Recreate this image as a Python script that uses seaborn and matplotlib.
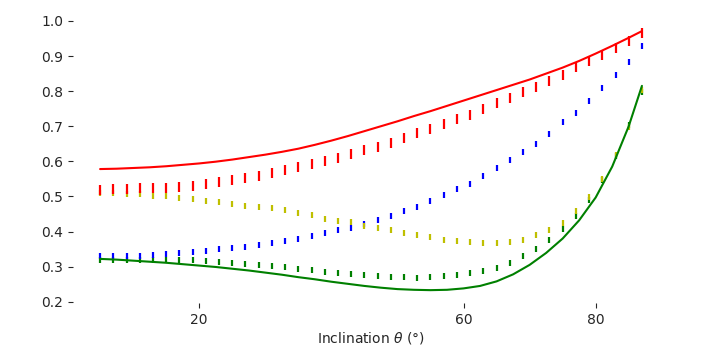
import matplotlib
matplotlib.use('Agg')
import matplotlib.pyplot as plt
import seaborn as sns
import numpy as np
import pandas as pd

# inclination grid for the tick-marked series (every 2 degrees)
incl_marks = list(range(5, 88, 2))

red_marks = [0.518, 0.520, 0.521, 0.523, 0.524, 0.525, 0.528, 0.531, 0.536, 0.541,
             0.546, 0.552, 0.559, 0.567, 0.576, 0.584, 0.592, 0.601, 0.610, 0.620,
             0.632, 0.642, 0.653, 0.666, 0.680, 0.693, 0.707, 0.721, 0.733, 0.749,
             0.765, 0.781, 0.798, 0.812, 0.829, 0.846, 0.869, 0.886, 0.903, 0.923,
             0.943, 0.966]
blue_marks = [0.330, 0.330, 0.330, 0.331, 0.334, 0.335, 0.339, 0.342, 0.344, 0.349,
              0.353, 0.357, 0.361, 0.366, 0.374, 0.379, 0.387, 0.395, 0.403, 0.410,
              0.422, 0.434, 0.443, 0.458, 0.469, 0.486, 0.504, 0.521, 0.536, 0.559,
              0.581, 0.604, 0.627, 0.649, 0.678, 0.713, 0.739, 0.773, 0.810, 0.847,
              0.884, 0.929]
yellow_marks = [0.509, 0.509, 0.508, 0.507, 0.502, 0.500, 0.495, 0.492, 0.487, 0.483,
                0.479, 0.473, 0.470, 0.466, 0.460, 0.453, 0.446, 0.437, 0.429, 0.426,
                0.417, 0.410, 0.404, 0.396, 0.390, 0.384, 0.377, 0.373, 0.369, 0.367,
                0.366, 0.371, 0.377, 0.389, 0.405, 0.425, 0.458, 0.497, 0.550, 0.617,
                0.698, 0.803]
green_marks = [0.320, 0.320, 0.320, 0.319, 0.319, 0.319, 0.319, 0.319, 0.316, 0.313,
               0.310, 0.307, 0.304, 0.301, 0.298, 0.294, 0.290, 0.285, 0.282, 0.279,
               0.276, 0.273, 0.271, 0.270, 0.268, 0.270, 0.273, 0.277, 0.282, 0.288,
               0.297, 0.311, 0.330, 0.350, 0.375, 0.406, 0.445, 0.490, 0.547, 0.615,
               0.704, 0.798]

# solid curves (every 2.5 degrees)
incl_line = [5, 7.5, 10, 12.5, 15, 17.5, 20, 22.5, 25, 27.5, 30, 32.5, 35, 37.5,
             40, 42.5, 45, 47.5, 50, 52.5, 55, 57.5, 60, 62.5, 65, 67.5, 70, 72.5,
             75, 77.5, 80, 82.5, 85, 87]
red_line = [0.578, 0.579, 0.581, 0.583, 0.586, 0.590, 0.594, 0.599, 0.605, 0.612,
            0.619, 0.627, 0.636, 0.647, 0.659, 0.672, 0.686, 0.700, 0.714, 0.729,
            0.743, 0.758, 0.773, 0.788, 0.803, 0.818, 0.833, 0.850, 0.867, 0.886,
            0.907, 0.929, 0.952, 0.971]
green_line = [0.322, 0.320, 0.317, 0.314, 0.311, 0.307, 0.303, 0.299, 0.294, 0.289,
              0.283, 0.277, 0.270, 0.264, 0.257, 0.251, 0.245, 0.240, 0.236, 0.234,
              0.233, 0.234, 0.238, 0.245, 0.258, 0.278, 0.305, 0.339, 0.380, 0.432,
              0.497, 0.585, 0.700, 0.815]

xticks = [20, 60, 80]
yticks = [0.2, 0.3, 0.4, 0.5, 0.6, 0.7, 0.8, 0.9, 1.0]

sns.set_style("ticks")
plt.rcParams['font.family'] = ['DejaVu Sans']

fig, ax = plt.subplots(figsize=(7.25, 3.63), dpi=100)
fig.subplots_adjust(left=0.1007, right=0.9228, top=0.950, bottom=0.165)

# vertical tick-mark series
ax.plot(incl_marks, green_marks, ls='none', marker='|', color='g', ms=4, mew=1.6)
ax.plot(incl_marks, blue_marks, ls='none', marker='|', color='b', ms=5, mew=1.6)
ax.plot(incl_marks, yellow_marks, ls='none', marker='|', color='y', ms=5, mew=1.6)
ax.plot(incl_marks, red_marks, ls='none', marker='|', color='r', ms=6.5, mew=1.6)

df_line = pd.DataFrame({'incl': incl_line, 'red': red_line, 'green': green_line})
sns.lineplot(data=df_line, x='incl', y='red', color='r', lw=1.5, ax=ax)
sns.lineplot(data=df_line, x='incl', y='green', color='g', lw=1.5, ax=ax)

ax.set_xticks(xticks)
ax.set_yticks(yticks)
ax.set_yticklabels([f'{v:.1f}' for v in yticks])
ax.set_xlabel(r'Inclination $\theta$ (°)', fontsize=10, labelpad=2)
ax.set_ylabel('')
ax.tick_params(labelsize=10, colors='.15')
sns.despine(ax=ax, left=True, bottom=True)

fig.savefig('out.png', dpi=100)
